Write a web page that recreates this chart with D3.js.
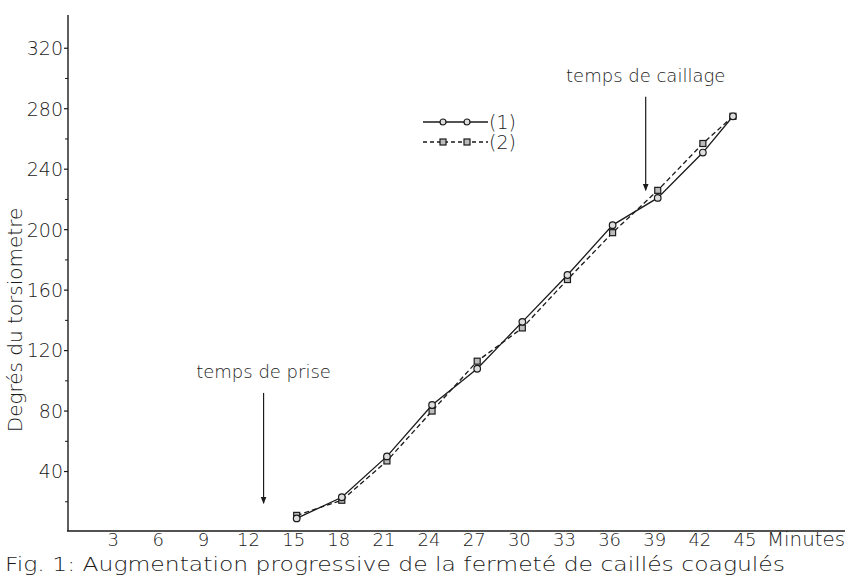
<!DOCTYPE html>
<html>
<head>
<meta charset="utf-8">
<script src="https://cdn.jsdelivr.net/npm/d3@7"></script>
<style>
  html, body { margin: 0; padding: 0; background: #fff; }
  svg { display: block; font-family: "DejaVu Sans", Lato, sans-serif; }
</style>
</head>
<body>
<div id="chart"></div>
<script>
// Données (minutes / degrés du torsiomètre)
const minutes = [15, 18, 21, 24, 27, 30, 33, 36, 39, 42, 44];
const serie1 = [9, 23, 50, 84, 108, 139, 170, 203, 221, 251, 275];   // (1) cercles, trait plein
const serie2 = [11, 21, 47, 80, 113, 135, 167, 198, 226, 257, 275];  // (2) carrés, tirets
const xTicks = [3, 6, 9, 12, 15, 18, 21, 24, 27, 30, 33, 36, 39, 42, 45];
const yTicks = [40, 80, 120, 160, 200, 240, 280, 320];
const yMinor = [20, 60, 100, 140, 180, 220, 260, 300];
const reperes = [
  { label: "temps de prise", minute: 12.8, from: 92, to: 19 },
  { label: "temps de caillage", minute: 38.2, from: 288, to: 226 }
];

function draw() {
  const width = 850, height = 575;
  const ink = "#1a1a1a";
  const fw = 200;

  const svg = d3.select("#chart").append("svg")
    .attr("width", width).attr("height", height)
    .attr("viewBox", [0, 0, width, height]);

  const x = d3.scaleLinear().domain([0, 45]).range([71, 748]);
  const y = d3.scaleLinear().domain([0, 342]).range([532, 15]);

  // axes
  svg.append("line")
    .attr("x1", 68).attr("x2", 68).attr("y1", y(342)).attr("y2", 531)
    .attr("stroke", ink).attr("stroke-width", 1.4);
  svg.append("line")
    .attr("x1", 67).attr("x2", 845).attr("y1", 531).attr("y2", 531)
    .attr("stroke", ink).attr("stroke-width", 1.4);

  // graduations Y
  svg.selectAll(".ymaj").data(yTicks).join("line")
    .attr("x1", 64).attr("x2", 68)
    .attr("y1", d => y(d)).attr("y2", d => y(d))
    .attr("stroke", ink).attr("stroke-width", 1.2);
  svg.selectAll(".ymin").data(yMinor).join("line")
    .attr("x1", 65).attr("x2", 68)
    .attr("y1", d => y(d)).attr("y2", d => y(d))
    .attr("stroke", ink).attr("stroke-width", 1);
  svg.selectAll(".ylab").data(yTicks).join("text")
    .attr("x", 63).attr("y", d => y(d))
    .attr("dy", "0.36em")
    .attr("text-anchor", "end")
    .attr("fill", ink)
    .style("font-size", "19px").style("font-weight", fw)
    .text(d => d);

  // graduations X
  svg.selectAll(".xlab").data(xTicks).join("text")
    .attr("x", d => x(d) - 3).attr("y", 546)
    .attr("text-anchor", "middle")
    .attr("fill", ink)
    .style("font-size", "18px").style("font-weight", fw)
    .text(d => d);

  svg.append("text")
    .attr("x", 767).attr("y", 546)
    .attr("textLength", 78).attr("lengthAdjust", "spacingAndGlyphs")
    .attr("fill", ink)
    .style("font-size", "19px").style("font-weight", fw)
    .text("Minutes");

  // titre axe Y
  svg.append("text")
    .attr("transform", "translate(22,320) rotate(-90)")
    .attr("text-anchor", "middle")
    .attr("fill", ink)
    .style("font-size", "20px").style("font-weight", fw)
    .text("Degrés du torsiometre");

  // légende de la figure
  svg.append("text")
    .attr("x", 5).attr("y", 571)
    .attr("textLength", 780).attr("lengthAdjust", "spacingAndGlyphs")
    .attr("fill", ink)
    .style("font-size", "19px").style("font-weight", fw)
    .text("Fig. 1: Augmentation progressive de la fermeté de caillés coagulés");

  // courbes
  const line = d3.line().x(d => x(d[0])).y(d => y(d[1]));
  const pts1 = minutes.map((m, i) => [m, serie1[i]]);
  const pts2 = minutes.map((m, i) => [m, serie2[i]]);

  svg.append("path").datum(pts2)
    .attr("d", line).attr("fill", "none")
    .attr("stroke", ink).attr("stroke-width", 1.3)
    .attr("stroke-dasharray", "5,3");
  svg.append("path").datum(pts1)
    .attr("d", line).attr("fill", "none")
    .attr("stroke", ink).attr("stroke-width", 1.3);

  svg.selectAll(".sq").data(pts2).join("rect")
    .attr("x", d => x(d[0]) - 3).attr("y", d => y(d[1]) - 3)
    .attr("width", 6).attr("height", 6)
    .attr("fill", "#bbb").attr("stroke", ink).attr("stroke-width", 1.2);
  svg.selectAll(".ci").data(pts1).join("circle")
    .attr("cx", d => x(d[0])).attr("cy", d => y(d[1]))
    .attr("r", 3.3)
    .attr("fill", "#ddd").attr("stroke", ink).attr("stroke-width", 1.2);

  // légende (1) (2)
  const leg = svg.append("g").attr("transform", "translate(423,122)");
  leg.append("line").attr("x1", 0).attr("x2", 65).attr("y1", 0).attr("y2", 0)
    .attr("stroke", ink).attr("stroke-width", 1.3);
  leg.selectAll(".lc").data([20, 44]).join("circle")
    .attr("cx", d => d).attr("cy", 0).attr("r", 3)
    .attr("fill", "#ddd").attr("stroke", ink).attr("stroke-width", 1.2);
  leg.append("text").attr("x", 66).attr("y", 0).attr("dy", "0.36em")
    .attr("fill", ink).style("font-size", "19px").style("font-weight", fw)
    .text("(1)");
  leg.append("line").attr("x1", 0).attr("x2", 65).attr("y1", 20).attr("y2", 20)
    .attr("stroke", ink).attr("stroke-width", 1.3).attr("stroke-dasharray", "4,3");
  leg.selectAll(".ls").data([20, 44]).join("rect")
    .attr("x", d => d - 3).attr("y", 17).attr("width", 6).attr("height", 6)
    .attr("fill", "#bbb").attr("stroke", ink).attr("stroke-width", 1.2);
  leg.append("text").attr("x", 66).attr("y", 20).attr("dy", "0.36em")
    .attr("fill", ink).style("font-size", "19px").style("font-weight", fw)
    .text("(2)");

  // flèches annotées
  svg.append("defs").append("marker")
    .attr("id", "fleche")
    .attr("viewBox", "0 0 10 10")
    .attr("refX", 9).attr("refY", 5)
    .attr("markerWidth", 6).attr("markerHeight", 6)
    .attr("orient", "auto")
    .append("path").attr("d", "M0,1 L10,5 L0,9 Z").attr("fill", ink);

  const ann = svg.selectAll(".ann").data(reperes).join("g");
  ann.append("line")
    .attr("x1", d => x(d.minute)).attr("x2", d => x(d.minute))
    .attr("y1", d => y(d.from)).attr("y2", d => y(d.to))
    .attr("stroke", ink).attr("stroke-width", 1.2)
    .attr("marker-end", "url(#fleche)");
  ann.append("text")
    .attr("x", d => x(d.minute))
    .attr("y", d => y(d.from) - 15)
    .attr("text-anchor", "middle")
    .attr("fill", ink)
    .style("font-size", "18px").style("font-weight", fw)
    .text(d => d.label);
}

draw();
</script>
</body>
</html>
